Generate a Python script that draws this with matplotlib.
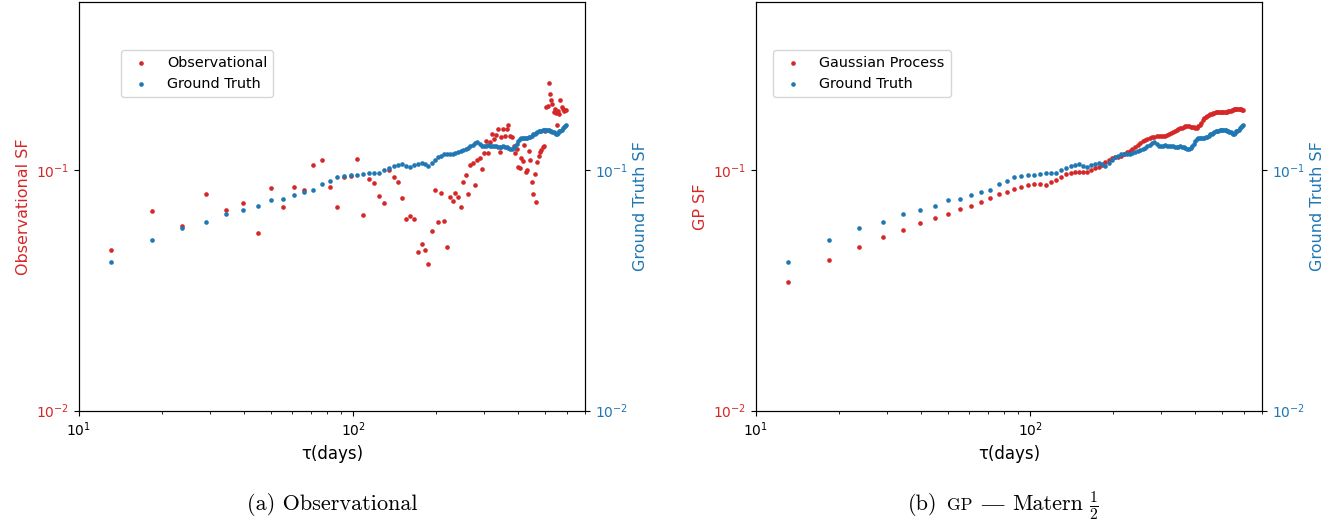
import matplotlib
matplotlib.use('Agg')
import matplotlib.pyplot as plt
from matplotlib.ticker import NullLocator

# lag grid (days)
tau = [13.1, 18.4, 23.7, 29.0, 34.3, 39.6, 44.9, 50.2, 55.5, 60.8,
       66.1, 71.4, 76.7, 82.0, 87.3, 92.6, 97.9, 103.2, 108.5, 113.8,
       119.1, 124.4, 129.7, 135.0, 140.3, 145.6, 150.9, 156.2, 161.5, 166.8,
       172.1, 177.4, 182.7, 188.0, 193.3, 198.6, 203.9, 209.2, 214.5, 219.8,
       225.1, 230.4, 235.7, 241.0, 246.3, 251.6, 256.9, 262.2, 267.5, 272.8,
       278.1, 283.4, 288.7, 294.0, 299.3, 304.6, 309.9, 315.2, 320.5, 325.8,
       331.1, 336.4, 341.7, 347.0, 352.3, 357.6, 362.9, 368.2, 373.5, 378.8,
       384.1, 389.4, 394.7, 400.0, 405.3, 410.6, 415.9, 421.2, 426.5, 431.8,
       437.1, 442.4, 447.7, 453.0, 458.3, 463.6, 468.9, 474.2, 479.5, 484.8,
       490.1, 495.4, 500.7, 506.0, 511.3, 516.6, 521.9, 527.2, 532.5, 537.8,
       543.1, 548.4, 553.7, 559.0, 564.3, 569.6, 574.9, 580.2, 585.5, 590.8, 596.1]

obs_sf = [0.0467, 0.0676, 0.0584, 0.0795, 0.0682, 0.0733, 0.0547, 0.0842, 0.0702, 0.0850,
          0.0826, 0.1049, 0.1104, 0.0850, 0.0702, 0.0933, 0.0944, 0.1114, 0.0650, 0.0920,
          0.0886, 0.0778, 0.0733, 0.1000, 0.0938, 0.0894, 0.0763, 0.0624, 0.0644, 0.0624,
          0.0458, 0.0491, 0.0467, 0.0406, 0.0560, 0.0826, 0.0607, 0.0800, 0.0614, 0.0477,
          0.0770, 0.0746, 0.0800, 0.0774, 0.0702, 0.0894, 0.0953, 0.0793, 0.1049, 0.1066,
          0.0866, 0.1100, 0.1118, 0.1007, 0.1173, 0.1320, 0.1180, 0.1311, 0.1411, 0.1345,
          0.1398, 0.1476, 0.1184, 0.1375, 0.1476, 0.1384, 0.1476, 0.1538, 0.1384, 0.1375,
          0.1258, 0.1173, 0.1226, 0.1032, 0.1016, 0.1118, 0.1090, 0.1270, 0.0984, 0.1000,
          0.1199, 0.1104, 0.0894, 0.0795, 0.0960, 0.0738, 0.1083, 0.1143, 0.1191, 0.1211,
          0.1250, 0.1258, 0.1457, 0.1832, 0.1850, 0.2292, 0.2069, 0.1966, 0.1875, 0.1747,
          0.1787, 0.1720, 0.1538, 0.1764, 0.1704, 0.1966, 0.1832, 0.1787, 0.1764, 0.1775, 0.1775]

gp_sf = [0.0342, 0.0423, 0.0480, 0.0527, 0.0565, 0.0601, 0.0630, 0.0657, 0.0689, 0.0709,
         0.0734, 0.0763, 0.0795, 0.0809, 0.0834, 0.0852, 0.0866, 0.0875, 0.0875, 0.0866,
         0.0894, 0.0909, 0.0938, 0.0960, 0.0974, 0.0984, 0.0984, 0.0984, 0.0986, 0.0997,
         0.1017, 0.1032, 0.1049, 0.1080, 0.1106, 0.1118, 0.1129, 0.1138, 0.1147, 0.1166,
         0.1184, 0.1205, 0.1228, 0.1252, 0.1273, 0.1295, 0.1323, 0.1339, 0.1352, 0.1365,
         0.1371, 0.1378, 0.1383, 0.1384, 0.1384, 0.1384, 0.1391, 0.1400, 0.1411, 0.1424,
         0.1438, 0.1449, 0.1462, 0.1476, 0.1490, 0.1502, 0.1509, 0.1520, 0.1528, 0.1523,
         0.1517, 0.1513, 0.1509, 0.1503, 0.1499, 0.1523, 0.1546, 0.1575, 0.1613, 0.1653,
         0.1669, 0.1680, 0.1693, 0.1706, 0.1718, 0.1726, 0.1731, 0.1737, 0.1742, 0.1745,
         0.1747, 0.1747, 0.1747, 0.1747, 0.1747, 0.1749, 0.1752, 0.1756, 0.1759, 0.1764,
         0.1772, 0.1780, 0.1787, 0.1796, 0.1801, 0.1804, 0.1799, 0.1792, 0.1787, 0.1780, 0.1775]

truth_sf = [0.0414, 0.0512, 0.0576, 0.0607, 0.0657, 0.0684, 0.0711, 0.0748, 0.0756, 0.0785,
            0.0813, 0.0826, 0.0877, 0.0903, 0.0933, 0.0947, 0.0951, 0.0951, 0.0962, 0.0972,
            0.0972, 0.0972, 0.1000, 0.1019, 0.1039, 0.1052, 0.1056, 0.1042, 0.1026, 0.1054,
            0.1064, 0.1066, 0.1059, 0.1039, 0.1075, 0.1100, 0.1132, 0.1149, 0.1162, 0.1162,
            0.1163, 0.1168, 0.1177, 0.1188, 0.1199, 0.1208, 0.1222, 0.1239, 0.1258, 0.1276,
            0.1298, 0.1307, 0.1280, 0.1266, 0.1258, 0.1264, 0.1270, 0.1264, 0.1258, 0.1258,
            0.1254, 0.1252, 0.1251, 0.1252, 0.1256, 0.1252, 0.1243, 0.1232, 0.1225, 0.1220,
            0.1240, 0.1264, 0.1288, 0.1320, 0.1345, 0.1360, 0.1363, 0.1358, 0.1354, 0.1360,
            0.1371, 0.1378, 0.1391, 0.1407, 0.1418, 0.1431, 0.1442, 0.1448, 0.1455, 0.1459,
            0.1466, 0.1473, 0.1472, 0.1469, 0.1466, 0.1462, 0.1458, 0.1452, 0.1445, 0.1434,
            0.1422, 0.1411, 0.1416, 0.1431, 0.1448, 0.1459, 0.1473, 0.1492, 0.1509, 0.1523, 0.1538]

RED = '#d62728'
BLUE = '#1f77b4'
W, H = 1342, 525


def draw_panel(fig, left_px, red_vals, red_name, red_ylabel, legend_x):
    rect = [left_px / W, 1 - 410.7 / H, 506 / W, 408.7 / H]
    ax = fig.add_axes(rect)
    ax.set_xscale('log')
    ax.set_yscale('log')
    ax2 = ax.twinx()
    ax2.set_yscale('log')

    ax.scatter(tau, red_vals, s=11, color=RED, linewidths=0, label=red_name)
    ax2.scatter(tau, truth_sf, s=11, color=BLUE, linewidths=0, label='Ground Truth')

    ax.set_xlim(10, 700)
    for a in (ax, ax2):
        a.set_ylim(0.01, 0.5)
        a.yaxis.set_minor_locator(NullLocator())
    ax.tick_params(axis='y', labelcolor=RED, labelsize=10)
    ax2.tick_params(axis='y', labelcolor=BLUE, labelsize=10)
    ax.tick_params(axis='x', labelsize=10)

    ax.set_xlabel('τ(days)', fontsize=12)
    ax.set_ylabel(red_ylabel, color=RED, fontsize=11.5)
    ax2.set_ylabel('Ground Truth SF', color=BLUE, fontsize=11.5)

    h1, l1 = ax.get_legend_handles_labels()
    h2, l2 = ax2.get_legend_handles_labels()
    ax2.legend(h1 + h2, l1 + l2, loc='upper left', bbox_to_anchor=(legend_x, 0.883),
               borderaxespad=0, fontsize=10.4, scatterpoints=1)
    return ax


fig = plt.figure(figsize=(W / 100, H / 100), dpi=100)

draw_panel(fig, 79, obs_sf, 'Observational', 'Observational SF', 0.083)
draw_panel(fig, 756, gp_sf, 'Gaussian Process', 'GP SF', 0.034)

# subfigure captions (LaTeX-like)
base_y = 1 - 510 / H
fig.text(332 / W, base_y, '(a) Observational', ha='center', va='baseline',
         family='cmr10', fontsize=16)

fig.canvas.draw()
renderer = fig.canvas.get_renderer()
# (text, family, size, gap before in px)
pieces = [('(b)', 'cmr10', 16, 0),
          ('GP', 'cmr10', 12.5, 9),
          ('—', 'Liberation Serif', 16, 9),
          ('Matern', 'cmr10', 16, 9),
          (r'$\frac{1}{2}$', 'cmr10', 16, 6)]
x_px = 908
for txt, fam, size, gap in pieces:
    x_px += gap
    t = fig.text(x_px / W, base_y, txt, ha='left', va='baseline',
                 family=fam, fontsize=size, math_fontfamily='cm')
    x_px = t.get_window_extent(renderer).x1

fig.savefig('out.png', dpi=100)
